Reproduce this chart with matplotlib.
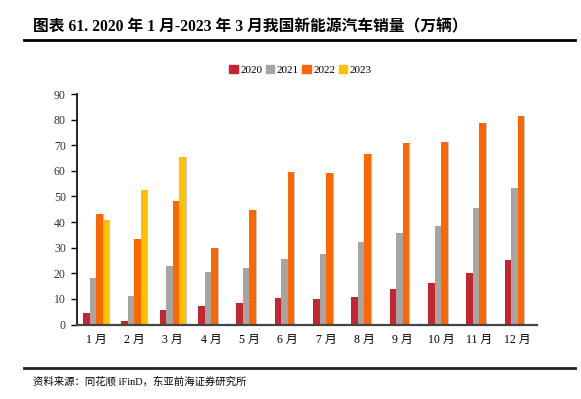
import numpy as np
import matplotlib
matplotlib.use("Agg")
import matplotlib.pyplot as plt
from matplotlib.lines import Line2D

SERIF_CJK = ['Liberation Serif', 'Noto Sans CJK SC', 'DejaVu Sans']
plt.rcParams['font.family'] = SERIF_CJK

# ─── Data ─────────────────────────────────────────────────────────────────────
MONTHS = ["1月", "2月", "3月", "4月", "5月", "6月",
          "7月", "8月", "9月", "10月", "11月", "12月"]
SALES_2020 = [4.4, 1.5, 5.5, 7.3, 8.3, 10.5, 9.8, 10.9, 13.8, 16.1, 20.2, 25.0]
SALES_2021 = [18.0, 11.1, 22.7, 20.6, 21.9, 25.7, 27.5, 32.4, 35.9, 38.5, 45.3, 53.4]
SALES_2022 = [43.2, 33.5, 48.4, 30.0, 44.7, 59.6, 59.3, 66.7, 70.8, 71.4, 78.7, 81.4]
SALES_2023 = [41.0, 52.5, 65.3]

SERIES = [("2020", SALES_2020, "#C3262E"),
          ("2021", SALES_2021, "#A5A5A5"),
          ("2022", SALES_2022, "#FF6600"),
          ("2023", SALES_2023, "#FFC000")]

# ─── Figure ───────────────────────────────────────────────────────────────────
fig = plt.figure(figsize=(5.81, 3.99), dpi=100)
ax = fig.add_axes([0.1325, 0.1867, 0.7915, 0.5777])

x = np.arange(len(MONTHS))
width = 0.17
for i, (label, vals, color) in enumerate(SERIES):
    xs = x[:len(vals)] + (i - 1.5) * width
    # soft shadow on right edge
    ax.bar(xs + 0.025, vals, width, color="#C8C8C8", zorder=1)
    ax.bar(xs, vals, width, color=color, label=label, zorder=2)

ax.set_xlim(-0.5, len(MONTHS) - 0.5)
ax.set_ylim(0, 90)
ax.set_yticks(range(0, 91, 10))
ax.set_yticklabels([str(v) for v in range(0, 91, 10)], family=SERIF_CJK)
ax.set_xticks(x)
ax.set_xticklabels([m.replace("月", " 月") for m in MONTHS], fontsize=8.5, family=SERIF_CJK)
ax.tick_params(axis="x", length=0, pad=7)
ax.tick_params(axis="y", labelsize=8.5, length=4, width=1, direction="out", pad=4,
               labelcolor="#333333")
for s in ["top", "right"]:
    ax.spines[s].set_visible(False)
ax.spines["left"].set_linewidth(1.2)
ax.spines["bottom"].set_linewidth(1.6)
ax.spines["bottom"].set_color("#444444")

handles = [plt.Rectangle((0, 0), 1, 1, color=c) for _, _, c in SERIES]
fig.legend(handles, [s[0] for s in SERIES], loc="center", bbox_to_anchor=(0.517, 0.825),
           ncol=4, frameon=False, fontsize=8, handlelength=0.8, handleheight=0.8,
           handletextpad=0.2, columnspacing=0.3)

# ─── Title / source ───────────────────────────────────────────────────────────
fig.text(0.057, 0.93, "图表 61. 2020 年 1 月-2023 年 3 月我国新能源汽车销量（万辆）",
         fontsize=11.3, fontweight="bold", ha="left", va="center", family=SERIF_CJK)
fig.add_artist(Line2D([24 / 581, 575 / 581], [1 - 40 / 399] * 2, color="black", lw=2))
fig.add_artist(Line2D([24 / 581, 575 / 581], [1 - 368 / 399] * 2, color="#222222", lw=2))
fig.text(0.057, 0.045, "资料来源：同花顺 iFinD，东亚前海证券研究所", fontsize=7.5,
         ha="left", va="center", family=SERIF_CJK)

fig.savefig("out.png", dpi=100)
